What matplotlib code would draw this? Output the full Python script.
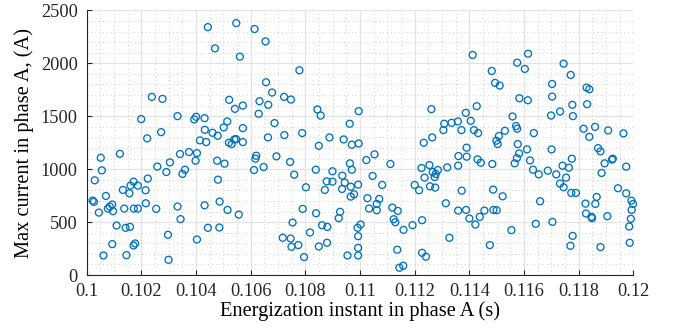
import matplotlib
matplotlib.use("Agg")
import matplotlib.pyplot as plt
from matplotlib.ticker import MultipleLocator

# energization instant (s) and peak current (A) per simulation run
t_energ = [
    0.10238, 0.10277, 0.10199, 0.10221, 0.10272, 0.10121, 0.10051, 0.10055, 0.10029,
    0.10258, 0.10304, 0.10291, 0.10223, 0.10171, 0.10160, 0.10187, 0.10132, 0.10156, 0.10215,
    0.10070, 0.10021, 0.10026, 0.10084, 0.10077, 0.10093, 0.10096, 0.10044, 0.10137, 0.10172,
    0.10187, 0.10216, 0.10254, 0.10109, 0.10142, 0.10158, 0.10297, 0.10093, 0.10171, 0.10177,
    0.10061, 0.10145, 0.10299,
    0.10443, 0.10547, 0.10614, 0.10654, 0.10469, 0.10560, 0.10656, 0.10678, 0.10521, 0.10542,
    0.10571, 0.10632, 0.10664, 0.10629, 0.10332, 0.10393, 0.10400, 0.10431, 0.10514, 0.10501,
    0.10432, 0.10460, 0.10479, 0.10571, 0.10687, 0.10414, 0.10437, 0.10520, 0.10540, 0.10546,
    0.10530, 0.10571, 0.10663, 0.10341, 0.10374, 0.10403, 0.10398, 0.10477, 0.10504, 0.10620,
    0.10617, 0.10647, 0.10612, 0.10359, 0.10350, 0.10480, 0.10332, 0.10343, 0.10431, 0.10486,
    0.10515, 0.10556, 0.10443, 0.10485, 0.10403,
    0.10778, 0.10722, 0.10747, 0.10844, 0.10856, 0.10995, 0.10723, 0.10788, 0.10849, 0.10888,
    0.10962, 0.10940, 0.10970, 0.10995, 0.10694, 0.10744, 0.10759, 0.10838, 0.10899, 0.10802,
    0.10878, 0.10899, 0.10871, 0.10935, 0.10963, 0.10970, 0.10944, 0.10934, 0.10966, 0.10993,
    0.10978, 0.10966, 0.11023, 0.11027, 0.11033, 0.10790, 0.10839, 0.10927, 0.10922, 0.10753,
    0.10817, 0.10861, 0.10880, 0.10991, 0.11002, 0.10993, 0.10717, 0.10746, 0.10749, 0.10774,
    0.10849, 0.10879, 0.10795, 0.10954, 0.10993, 0.10993,
    0.11261, 0.11387, 0.11308, 0.11335, 0.11358, 0.11305, 0.11371, 0.11264, 0.11233, 0.11053,
    0.11046, 0.11111, 0.11081, 0.11225, 0.11254, 0.11236, 0.11266, 0.11277, 0.11285, 0.11273,
    0.11319, 0.11359, 0.11360, 0.11390, 0.11390, 0.11200, 0.11216, 0.11256, 0.11275, 0.11372,
    0.11070, 0.11061, 0.11061, 0.11118, 0.11138, 0.11123, 0.11129, 0.11159, 0.11192, 0.11227,
    0.11314, 0.11359, 0.11388, 0.11327, 0.11136, 0.11227, 0.11241, 0.11144, 0.11158,
    0.11412, 0.11615, 0.11575, 0.11603, 0.11745, 0.11482, 0.11494, 0.11511, 0.11703, 0.11703,
    0.11583, 0.11614, 0.11427, 0.11699, 0.11732, 0.11405, 0.11558, 0.11417, 0.11432, 0.11571,
    0.11575, 0.11530, 0.11508, 0.11499, 0.11504, 0.11636, 0.11577, 0.11611, 0.11701, 0.11582,
    0.11574, 0.11566, 0.11430, 0.11442, 0.11484, 0.11622, 0.11633, 0.11654, 0.11687, 0.11718,
    0.11741, 0.11732, 0.11745, 0.11487, 0.11522, 0.11659, 0.11488, 0.11500, 0.11455, 0.11438,
    0.11400, 0.11422, 0.11554, 0.11643, 0.11704, 0.11475,
    0.11771, 0.11829, 0.11839, 0.11777, 0.11831, 0.11779, 0.11818, 0.11860, 0.11839, 0.11908,
    0.11964, 0.11871, 0.11880, 0.11775, 0.11925, 0.11922, 0.11895, 0.11974, 0.11764, 0.11884,
    0.11754, 0.11944, 0.11974, 0.11993, 0.11999, 0.11994, 0.11991, 0.11985, 0.11987, 0.11866,
    0.11861, 0.11825, 0.11827, 0.11847, 0.11849, 0.11905, 0.11773, 0.11790, 0.11778, 0.11770,
    0.11880,
]
i_max = [
    1683, 1664, 1473, 1291, 1350, 1145, 1108, 989, 895,
    1024, 1064, 973, 911, 882, 845, 845, 804, 772, 801,
    747, 703, 691, 647, 628, 666, 603, 590, 628, 628,
    628, 678, 625, 468, 446, 455, 380, 292, 279, 298,
    185, 188, 144,
    2342, 2380, 2324, 2207, 2141, 2063, 1821, 1724, 1655, 1570,
    1601, 1642, 1608, 1523, 1501, 1470, 1495, 1482, 1451, 1394,
    1372, 1344, 1316, 1388, 1435, 1272, 1256, 1250, 1281, 1284,
    1237, 1256, 1300, 1143, 1162, 1152, 1080, 1080, 1052, 1127,
    1099, 1020, 992, 995, 955, 901, 647, 528, 659, 694,
    615, 571, 446, 449, 336,
    1934, 1683, 1658, 1564, 1507, 1548, 1322, 1341, 1221, 1300,
    1429, 1281, 1231, 1243, 1121, 1068, 948, 995, 980, 829,
    885, 882, 804, 939, 1055, 995, 873, 813, 835, 854,
    763, 741, 1086, 726, 628, 625, 584, 597, 537, 496,
    402, 471, 455, 446, 477, 367, 352, 345, 267, 283,
    270, 305, 170, 185, 257, 185,
    1567, 1532, 1429, 1438, 1451, 1369, 1369, 1300, 1250, 1140,
    936, 1049, 851, 1011, 1039, 920, 973, 955, 992, 926,
    1017, 1033, 1124, 1203, 1118, 851, 801, 838, 826, 797,
    719, 672, 612, 637, 606, 527, 499, 427, 471, 518,
    678, 609, 615, 352, 239, 210, 173, 69, 88,
    2079, 2091, 2006, 1947, 1997, 1928, 1815, 1790, 1805, 1686,
    1670, 1651, 1595, 1507, 1545, 1457, 1498, 1369, 1341, 1407,
    1382, 1363, 1313, 1269, 1237, 1341, 1237, 1187, 1187, 1149,
    1105, 1055, 1093, 1061, 1049, 1083, 995, 951, 986, 951,
    1033, 864, 829, 807, 744, 697, 615, 612, 609, 550,
    534, 477, 424, 484, 502, 283,
    1890, 1771, 1755, 1608, 1614, 1501, 1382, 1400, 1306, 1366,
    1338, 1199, 1168, 1099, 1099, 1090, 1055, 1024, 1014, 964,
    920, 820, 772, 703, 672, 615, 531, 458, 305, 738,
    672, 675, 581, 550, 537, 556, 776, 776, 370, 276,
    264,
]

plt.rcParams['font.family'] = ['Liberation Serif', 'DejaVu Serif']

fig = plt.figure(figsize=(6.73, 3.35), dpi=100)
ax = fig.add_axes([0.129, 0.179, 0.812, 0.790])

ax.scatter(t_energ, i_max, s=25, facecolors='none', edgecolors='#0072BD',
           linewidths=0.95, zorder=3, clip_on=False)

ax.set_xlim(0.1, 0.12)
ax.set_ylim(0, 2500)
ax.xaxis.set_minor_locator(MultipleLocator(0.0005))
ax.yaxis.set_major_locator(MultipleLocator(500))
ax.yaxis.set_minor_locator(MultipleLocator(100))
ax.set_xticks([0.1 + 0.002 * k for k in range(11)])
ax.set_xticklabels(['0.1', '0.102', '0.104', '0.106', '0.108', '0.11',
                    '0.112', '0.114', '0.116', '0.118', '0.12'])

ax.grid(True, which='major', color='#e3e3e3', linewidth=0.9, zorder=0)
ax.grid(True, which='minor', color='#cfcfcf', linestyle=(0, (1, 3)),
        linewidth=0.7, zorder=0)
ax.set_axisbelow(True)

for side in ('top', 'right'):
    ax.spines[side].set_visible(False)
for side in ('left', 'bottom'):
    ax.spines[side].set_color('#262626')
    ax.spines[side].set_linewidth(0.8)

ax.tick_params(which='major', direction='in', length=3.6, width=0.8,
               labelsize=13.2, colors='#262626')
ax.tick_params(axis='x', which='major', pad=6)
ax.tick_params(axis='y', which='major', pad=6.5)
ax.tick_params(which='minor', length=0)

ax.set_xlabel('Energization instant in phase A (s)', fontsize=14.7, labelpad=1)
ax.set_ylabel('Max current in phase A, (A)', fontsize=14.7, labelpad=5)

fig.savefig('out.png', dpi=100)
